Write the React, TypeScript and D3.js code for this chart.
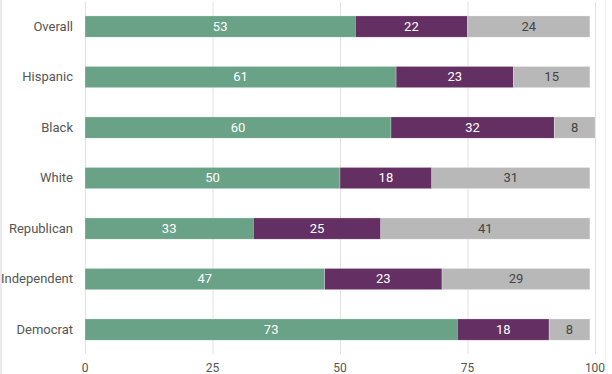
import React, { useEffect, useRef } from "react";
import * as d3 from "d3";

const categories = ["Overall", "Hispanic", "Black", "White", "Republican", "Independent", "Democrat"];
const seriesA = [53, 61, 60, 50, 33, 47, 73];
const seriesB = [22, 23, 32, 18, 25, 23, 18];
const seriesC = [24, 15, 8, 31, 41, 29, 8];
const xTicks = [0, 25, 50, 75, 100];

const colors = ["#6aa287", "#642f63", "#b8b8b8"];
const textColors = ["#ffffff", "#ffffff", "#444444"];

export default function App() {
  const ref = useRef<SVGSVGElement>(null);

  useEffect(() => {
    const width = 612;
    const height = 374;
    const svg = d3.select(ref.current);
    svg.selectAll("*").remove();

    const x = d3.scaleLinear().domain([0, 100]).range([85, 595]);
    const y = d3
      .scaleBand()
      .domain(categories)
      .range([1.3, 354.8])
      .paddingInner(0.58)
      .paddingOuter(0.29);

    // frame lines
    svg.append("line").attr("x1", 1).attr("x2", 1).attr("y1", 0).attr("y2", height)
      .attr("stroke", "#e3e3e3").attr("stroke-width", 1.5);
    svg.append("line").attr("x1", 605.5).attr("x2", 605.5).attr("y1", 0).attr("y2", height)
      .attr("stroke", "#f0f0f0").attr("stroke-width", 1);

    // grid
    svg
      .append("g")
      .selectAll("line")
      .data(xTicks)
      .enter()
      .append("line")
      .attr("x1", (d) => x(d) + 0.5)
      .attr("x2", (d) => x(d) + 0.5)
      .attr("y1", 2)
      .attr("y2", 354)
      .attr("stroke", "#e2e2e2")
      .attr("stroke-width", 1);

    svg
      .append("g")
      .selectAll("text")
      .data(xTicks)
      .enter()
      .append("text")
      .attr("x", (d) => x(d))
      .attr("y", 369)
      .attr("text-anchor", "middle")
      .attr("dominant-baseline", "middle")
      .style("font-family", "Roboto")
      .style("font-size", "12px")
      .style("fill", "#555")
      .text((d) => String(d));

    const rows = categories.map((c, i) => ({
      cat: c,
      vals: [seriesA[i], seriesB[i], seriesC[i]],
    }));

    rows.forEach((r) => {
      let acc = 0;
      r.vals.forEach((v, k) => {
        const x0 = x(acc);
        const x1 = x(acc + v);
        acc += v;
        svg
          .append("rect")
          .attr("x", x0)
          .attr("y", y(r.cat)!)
          .attr("width", x1 - x0)
          .attr("height", y.bandwidth())
          .attr("fill", colors[k])
          .attr("stroke", "#ffffff")
          .attr("stroke-opacity", 0.5)
          .attr("stroke-width", 0.5);
        svg
          .append("text")
          .attr("x", (x0 + x1) / 2)
          .attr("y", y(r.cat)! + y.bandwidth() / 2 + 1)
          .attr("text-anchor", "middle")
          .attr("dominant-baseline", "middle")
          .style("font-family", "Roboto")
          .style("font-size", "13px")
          .style("fill", textColors[k])
          .text(String(v));
      });
    });

    svg
      .append("g")
      .selectAll("text")
      .data(categories)
      .enter()
      .append("text")
      .attr("x", 73)
      .attr("y", (d) => y(d)! + y.bandwidth() / 2 + 1)
      .attr("text-anchor", "end")
      .attr("dominant-baseline", "middle")
      .style("font-family", "Roboto")
      .style("font-size", "13px")
      .style("fill", "#555")
      .text((d) => d);

    svg.attr("width", width).attr("height", height);
  }, []);

  return (
    <svg
      ref={ref}
      width={612}
      height={374}
      style={{ position: "absolute", left: 0, top: 0, background: "#fff" }}
    />
  );
}
